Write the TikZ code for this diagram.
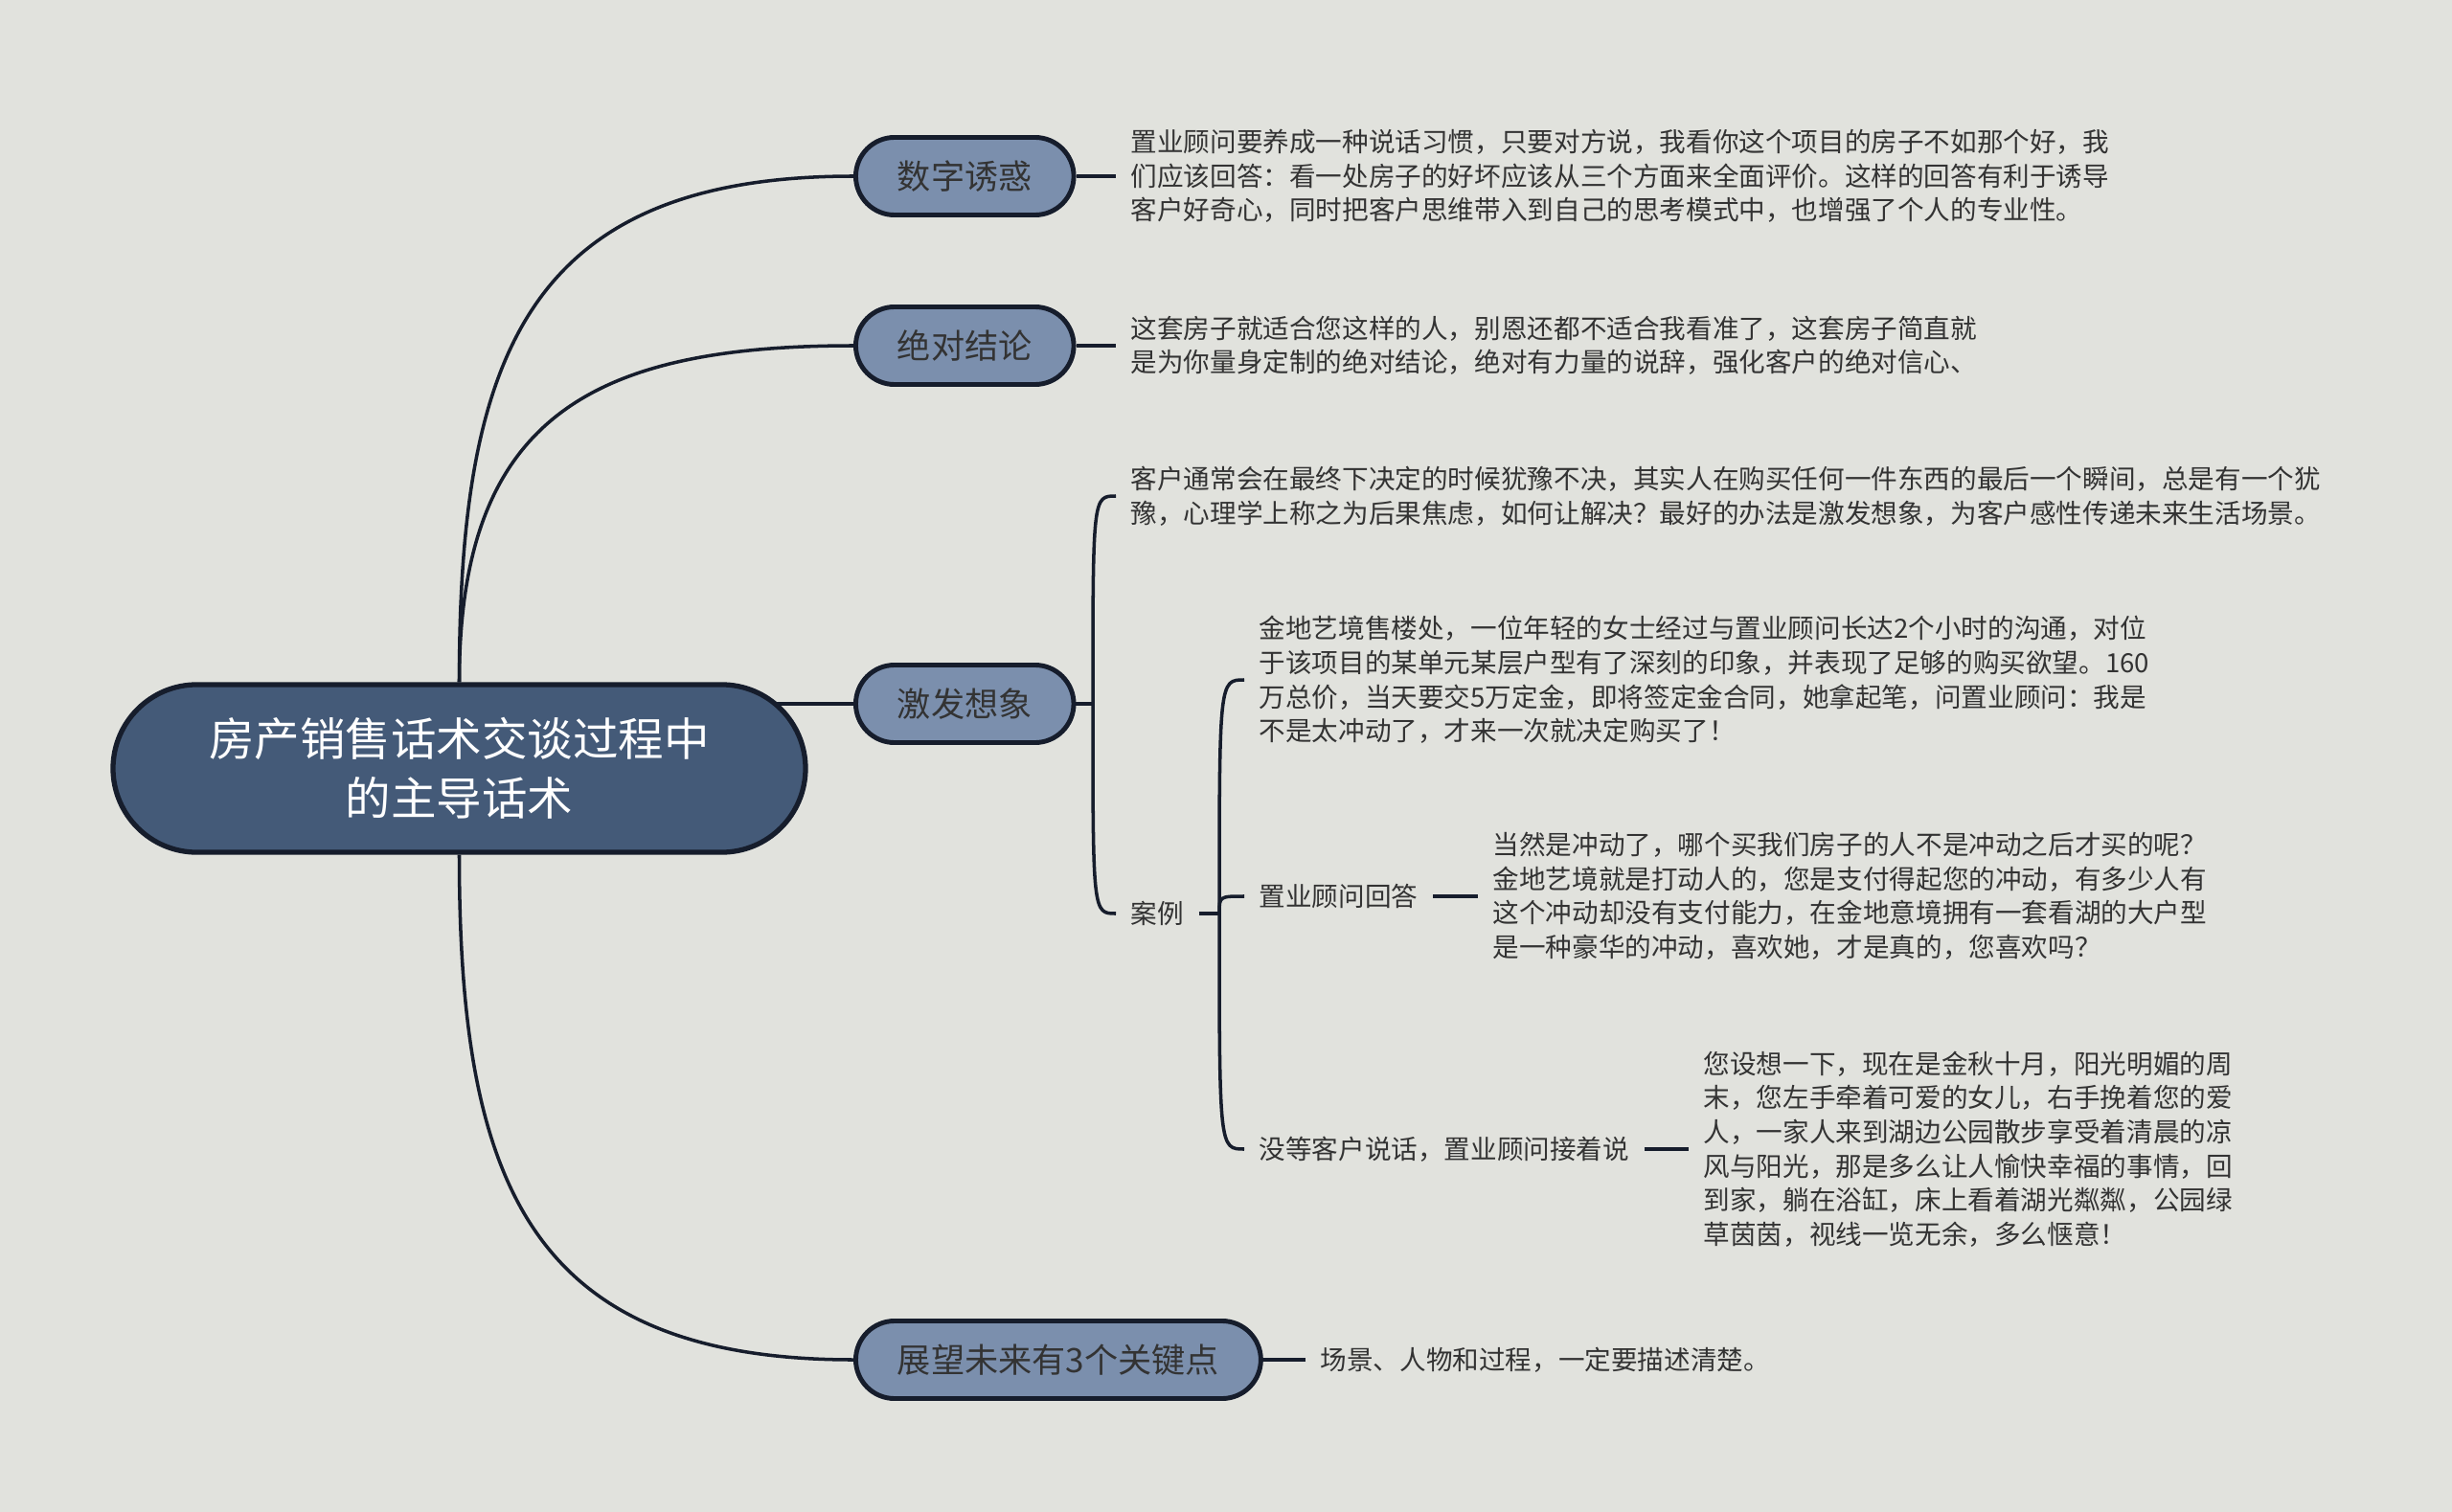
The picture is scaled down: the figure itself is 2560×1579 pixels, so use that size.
\documentclass[tikz,border=0pt]{standalone}
\usepackage{fontspec}
\setmainfont{Noto Sans CJK SC}
\usepackage{xcolor}
\usepackage{tikz}
\usetikzlibrary{arrows.meta, positioning, calc, shapes}

\definecolor{bgcol}{RGB}{225,226,221}
\definecolor{rootcol}{RGB}{68,90,120}
\definecolor{topiccol}{RGB}{123,143,173}
\definecolor{linecol}{RGB}{22,29,44}
\definecolor{textcol}{RGB}{51,51,51}

\pgfdeclarelayer{bg}
\pgfsetlayers{bg,main}

\begin{document}
\begin{tikzpicture}[x=0.01cm, y=-0.01cm,
	conn/.style={draw=linecol, line width=1pt},
	rootnode/.style={rounded rectangle, draw=linecol, line width=1.5pt, fill=rootcol,
		text=white, minimum width=7.46cm, minimum height=1.75cm, align=center,
		font=\fontsize{13.5}{17.6}\selectfont},
	topic/.style={rounded rectangle, draw=linecol, line width=1.4pt, fill=topiccol,
		text=textcol, inner xsep=0.4cm, minimum height=0.81cm, anchor=west,
		font=\fontsize{10}{12}\selectfont},
	leaf/.style={text=textcol, align=left, inner xsep=0.15cm, inner ysep=0pt,
		anchor=west, font=\fontsize{7.85}{10.1}\selectfont}]
		
		% Root and main topics
		\node[rootnode] (root) at (479.5,802.5) {房产销售话术交谈过程中\\的主导话术};
		\node[topic] (shuzi) at (891,184) {数字诱惑};
		\node[topic] (jielun) at (891,361) {绝对结论};
		\node[topic] (xiangxiang) at (891,735) {激发想象};
		\node[topic] (zhanwang) at (891,1420) {展望未来有3个关键点};
		
		% Leaves
		\node[leaf] (shuziT) at (1165,184) {置业顾问要养成一种说话习惯，只要对方说，我看你这个项目的房子不如那个好，我\\
			们应该回答：看一处房子的好坏应该从三个方面来全面评价。这样的回答有利于诱导\\
			客户好奇心，同时把客户思维带入到自己的思考模式中，也增强了个人的专业性。};
		\node[leaf] (jielunT) at (1165,361) {这套房子就适合您这样的人，别恩还都不适合我看准了，这套房子简直就\\
			是为你量身定制的绝对结论，绝对有力量的说辞，强化客户的绝对信心、};
		\coordinate (j3) at (1141,735);
		\node[leaf] (xxA) at (1165,518) {客户通常会在最终下决定的时候犹豫不决，其实人在购买任何一件东西的最后一个瞬间，总是有一个犹\\
			豫，心理学上称之为后果焦虑，如何让解决？最好的办法是激发想象，为客户感性传递未来生活场景。};
		\node[leaf] (anli) at (1165,954) {案例};
		\coordinate (j4) at (1273,954);
		\node[leaf] (caseA) at (1299,710) {金地艺境售楼处，一位年轻的女士经过与置业顾问长达2个小时的沟通，对位\\
			于该项目的某单元某层户型有了深刻的印象，并表现了足够的购买欲望。160\\
			万总价，当天要交5万定金，即将签定金合同，她拿起笔，问置业顾问：我是\\
			不是太冲动了，才来一次就决定购买了！};
		\node[leaf] (huida) at (1299,936) {置业顾问回答};
		\node[leaf] (huidaT) at (1543,936) {当然是冲动了，哪个买我们房子的人不是冲动之后才买的呢？\\
			金地艺境就是打动人的，您是支付得起您的冲动，有多少人有\\
			这个冲动却没有支付能力，在金地意境拥有一套看湖的大户型\\
			是一种豪华的冲动，喜欢她，才是真的，您喜欢吗？};
		\node[leaf] (jiezhe) at (1299,1200) {没等客户说话，置业顾问接着说};
		\node[leaf] (jiezheT) at (1763,1200) {您设想一下，现在是金秋十月，阳光明媚的周\\
			末，您左手牵着可爱的女儿，右手挽着您的爱\\
			人，一家人来到湖边公园散步享受着清晨的凉\\
			风与阳光，那是多么让人愉快幸福的事情，回\\
			到家，躺在浴缸，床上看着湖光粼粼，公园绿\\
			草茵茵，视线一览无余，多么惬意！};
		\node[leaf] (zhanwangT) at (1363,1420) {场景、人物和过程，一定要描述清楚。};
		
		\begin{pgfonlayer}{bg}
			% Background
			\fill[bgcol] (0,0) rectangle (2560,1579);
			
			% Connectors from the root
			\draw[conn] (root.north) to[out=90, in=180, looseness=1.3] (shuzi.west);
			\draw[conn] (root.north) to[out=90, in=180, looseness=1.3] (jielun.west);
			\draw[conn] (root.center |- xiangxiang.west) -- (xiangxiang.west);
			\draw[conn] (root.south) to[out=-90, in=180, looseness=1.3] (zhanwang.west);
			
			% Connectors to the leaves
			\draw[conn] (shuzi.east) -- (shuziT.west);
			\draw[conn] (jielun.east) -- (jielunT.west);
			\draw[conn] (xiangxiang.east) -- (j3);
			\draw[conn] (j3) .. controls (j3 |- xxA.west) .. (xxA.west);
			\draw[conn] (j3) .. controls (j3 |- anli.west) .. (anli.west);
			\draw[conn] (anli.east) -- (j4);
			\draw[conn] (j4) .. controls (j4 |- caseA.west) .. (caseA.west);
			\draw[conn] (j4) .. controls (j4 |- huida.west) .. (huida.west);
			\draw[conn] (j4) .. controls (j4 |- jiezhe.west) .. (jiezhe.west);
			\draw[conn] (huida.east) -- (huidaT.west);
			\draw[conn] (jiezhe.east) -- (jiezheT.west);
			\draw[conn] (zhanwang.east) -- (zhanwangT.west);
		\end{pgfonlayer}
		
		\useasboundingbox (0,0) rectangle (2560,1579);
	\end{tikzpicture}
\end{document}
